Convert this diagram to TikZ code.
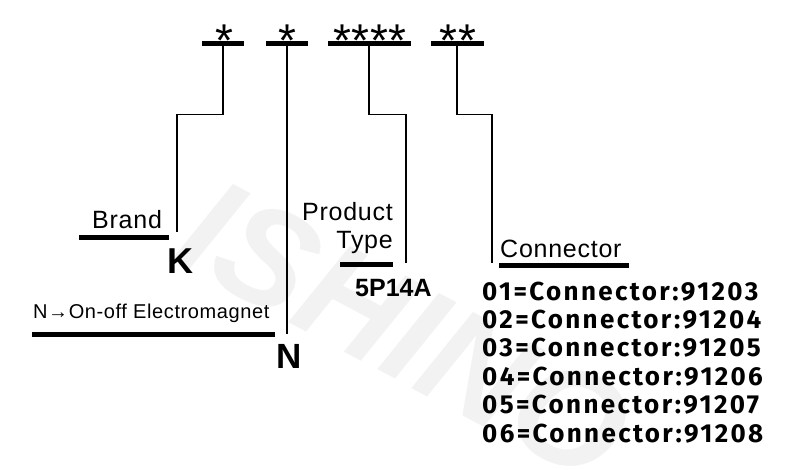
\documentclass[tikz,border=0pt]{standalone}
\usepackage{fontspec}
\setmainfont{Liberation Sans}
\newfontfamily\listfont[LetterSpace=9]{Fira Sans}
\newfontfamily\spacedfont[LetterSpace=3]{Liberation Sans}
\newcommand\st{\makebox[18.5pt]{*}}
\usetikzlibrary{positioning}

\begin{document}
\begin{tikzpicture}[
		x=1pt,
		y=-1pt,
		bar/.style={
			fill=black,
			inner sep=0pt,
			minimum height=5pt,
		},
		starsym/.style={
			font=\fontsize{46}{46}\selectfont,
			inner sep=0pt,
			anchor=base,
		},
		lbl/.style={
			font=\fontsize{25}{25}\selectfont\spacedfont,
			inner sep=0pt,
		},
		big/.style={
			font=\fontsize{36}{36}\selectfont\bfseries,
			inner sep=0pt,
			anchor=base west,
		},
		item/.style={
			font=\fontsize{26}{26}\selectfont\listfont\bfseries,
			inner sep=0pt,
			anchor=base west,
		},
		link/.style={
			line width=1.2pt,
		},
		]
		\useasboundingbox (0,0) rectangle (800,469);
		
		% watermark
		\node[rotate=-28, text=black!5, inner sep=0pt,
			font=\fontsize{140}{140}\selectfont\bfseries\itshape] (mark) at (405,330) {ISHINO};
		
		% code fields
		\node[bar, minimum width=42pt] (b1) at (223,43.5) {};
		\node[bar, minimum width=42pt] (b2) at (287,43.5) {};
		\node[bar, minimum width=83pt] (b3) at (369,43.5) {};
		\node[bar, minimum width=53pt] (b4) at (457,43.5) {};
		\node[starsym] (s1) at (224,56.5) {\st};
		\node[starsym] (s2) at (287,56.5) {\st};
		\node[starsym] (s3) at (370,56.5) {\st\st\st\st};
		\node[starsym] (s4) at (458,56.5) {\st\st};
		
		% brand
		\node[lbl, anchor=base west] (brand) at (92,228) {Brand};
		\node[bar, minimum width=90pt] (brandbar) at (124,237) {};
		\node[big] (k) at (167,273) {K};
		\coordinate (brandtip) at (177,232);
		
		% electromagnet
		\node[lbl, anchor=base west, font=\fontsize{20}{20}\selectfont\spacedfont] (magnet) at (33,318) {N→On-off Electromagnet};
		\node[bar, minimum width=243pt] (magnetbar) at (153.5,334) {};
		\node[big, font=\fontsize{35}{35}\selectfont\bfseries] (n) at (276,368) {N};
		\coordinate (ntip) at (287,334);
		
		% product type
		\node[lbl, anchor=base east] (product) at (393,220) {Product};
		\node[lbl, anchor=base east] (type) at (393,248) {Type};
		\node[bar, minimum width=53pt] (typebar) at (366.5,264) {};
		\node[big, font=\fontsize{25}{25}\selectfont\bfseries] (model) at (355,296) {5P14A};
		\coordinate (typetip) at (406,263);
		
		% connector
		\node[lbl, anchor=base west] (conn) at (500,257) {Connector};
		\node[bar, minimum width=130pt] (connbar) at (564,265) {};
		\coordinate (conntip) at (492,263);
		\foreach \k [count=\i] in {3,...,8}
		\node[item] (c\i) at (482,{300+28.4*(\i-1)}) {0\i=Connector:9120\k};
		
		% leader lines
		\draw[link] (b1.south) -- ++(0,68) -| (brandtip);
		\draw[link] (b2.south) -- (ntip);
		\draw[link] (b3.south) -- ++(0,68) -| (typetip);
		\draw[link] (b4.south) -- ++(0,68) -| (conntip);
		
	\end{tikzpicture}
\end{document}
